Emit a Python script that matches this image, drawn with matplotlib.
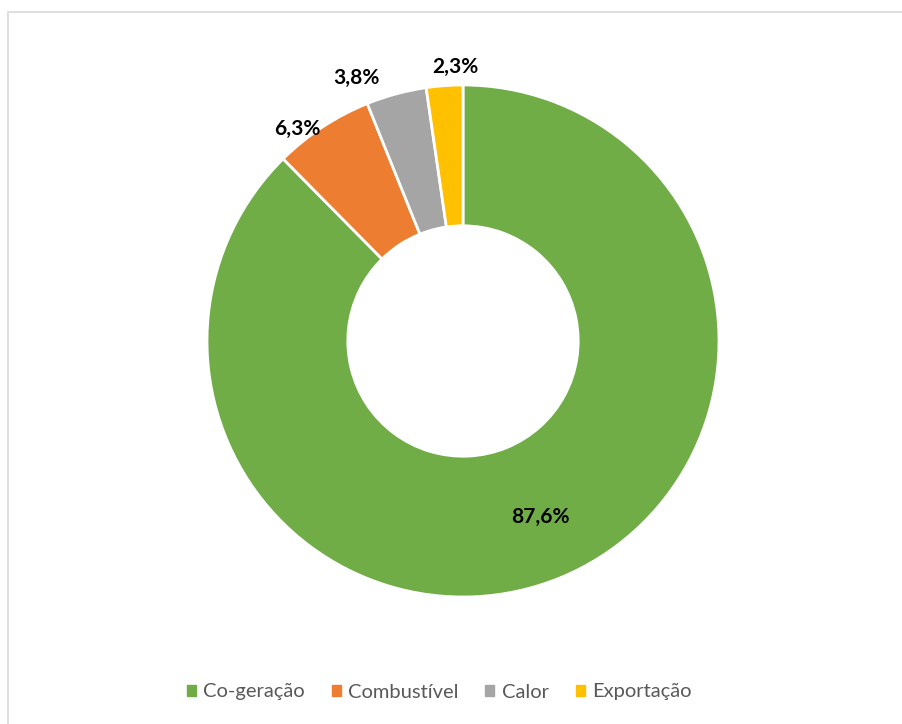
import matplotlib.pyplot as plt
import matplotlib.patches as mpatches
import numpy as np

categories = ['Co-geração', 'Combustível', 'Calor', 'Exportação']
values = [87.6, 6.3, 3.8, 2.3]
labels = ['87,6%', '6,3%', '3,8%', '2,3%']
colors = ['#70AD47', '#ED7D31', '#A5A5A5', '#FFC000']

plt.rcParams['font.family'] = ['Lato', 'DejaVu Sans']

W, H = 903, 724
fig = plt.figure(figsize=(W / 100, H / 100), dpi=100)

# light chart frame (extends beyond the right/bottom edge)
fig.patches.append(mpatches.Rectangle((8 / W, -0.1), 1.2, 1.1 - 12 / H,
                                      transform=fig.transFigure, fill=False,
                                      edgecolor='#d9d9d9', lw=1.2))

# axes sized so that radius 1 = 256 px, center at (463, 341)
L = 1.3
side = 2 * L * 256
cx, cy = 463, H - 341
ax = fig.add_axes([(cx - side / 2) / W, (cy - side / 2) / H, side / W, side / H])

wedges, _ = ax.pie(values, colors=colors, startangle=90, counterclock=False,
                   radius=1, wedgeprops=dict(width=0.55, edgecolor='white', linewidth=2))
ax.set_xlim(-L, L)
ax.set_ylim(-L, L)
ax.set_aspect('equal')
ax.axis('off')

# label placement (radius, angle shift in degrees) per slice
label_pos = [(0.75, 1.5), (1.05, 4.7), (1.11, 7.0), (1.07, -2.5)]
for w, lab, (r, shift) in zip(wedges, labels, label_pos):
    ang = np.deg2rad((w.theta1 + w.theta2) / 2 + shift)
    ax.text(r * np.cos(ang), r * np.sin(ang), lab, ha='center', va='center',
            fontsize=15, fontweight='bold', color='black')

handles = [mpatches.Patch(color=c, label=n) for c, n in zip(colors, categories)]
fig.legend(handles=handles, loc='center', bbox_to_anchor=(439 / W, 1 - 692 / H),
           ncol=4, frameon=False, fontsize=14.5, labelcolor='#595959',
           handlelength=0.45, handleheight=0.45, handletextpad=0.35, columnspacing=1.35)

fig.savefig('out.png', dpi=100)
